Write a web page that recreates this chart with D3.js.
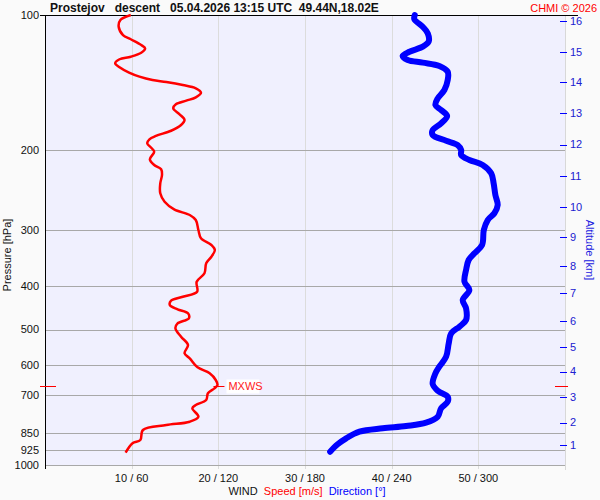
<!DOCTYPE html>
<html>
<head>
<meta charset="utf-8">
<script src="https://cdn.jsdelivr.net/npm/d3@7"></script>
<style>
  body { margin: 0; background: #fafafa; }
  svg { display: block; font-family: "Liberation Sans", Arial, sans-serif; }
</style>
</head>
<body>
<div id="chart"></div>
<script>
// Wind profile (descent) - speed and direction vs pressure

// speed curve [hPa] / [m/s]
const speedPres = [100, 102.6, 106.2, 110.8, 113.2, 116.6, 118.6, 121.3, 123.8, 125.4, 128, 130.7, 134.3, 137.1, 139.5, 140.9, 143.1, 145.5, 148.8, 152.4, 155, 157.9, 161.2, 166, 171.1, 175.6, 180.8, 185.7, 188.9, 192.8, 196.8, 201.3, 209.3, 215.4, 220.2, 226.8, 236.6, 249, 260, 270.3, 278.3, 285.5, 300.5, 313.5, 324.4, 332.8, 344.5, 356.3, 375, 391.5, 412, 422.7, 431.4, 441, 450.9, 460.2, 472.1, 484.3, 496.9, 518.7, 541.2, 564.7, 579.3, 606.6, 625.5, 647.3, 664.1, 675.4, 692.9, 717.1, 735.7, 748.2, 781.1, 801.3, 815, 836.1, 880, 895, 939];
const speedVal = [9.9, 8.7, 8.5, 9.0, 9.9, 11.1, 11.55, 11.1, 9.9, 8.6, 8.1, 8.6, 9.7, 10.9, 12.4, 14.0, 15.9, 17.4, 18.0, 17.4, 16.3, 15.1, 14.8, 15.5, 16.1, 15.7, 14.55, 12.8, 12.05, 11.8, 12.2, 12.6, 12.1, 12.6, 13.4, 13.5, 13.3, 13.3, 13.8, 14.9, 16.7, 17.4, 17.7, 18.0, 19.2, 19.6, 19.2, 18.6, 18.4, 17.5, 17.55, 15.9, 14.55, 14.4, 15.3, 16.5, 16.6, 15.3, 15.05, 15.7, 16.5, 16.1, 16.7, 17.6, 19.0, 19.7, 19.9, 19.55, 18.8, 18.6, 17.4, 17.0, 17.7, 16.7, 14.0, 11.3, 11.0, 10.1, 9.3];

// direction curve [hPa] / [deg]
const dirPres = [100, 102.2, 106.2, 109.8, 114.6, 117.6, 120.7, 123.3, 125.9, 127.6, 129.8, 133.7, 139.5, 146.8, 153.2, 158.5, 162.6, 167.7, 174.1, 180.1, 184.8, 190.3, 194.5, 199.5, 204.7, 210, 215.4, 224.8, 236.6, 251.2, 264.4, 275.8, 285.5, 300.5, 324.4, 338.5, 350.3, 368.7, 391.5, 408.4, 429.9, 448.5, 476.2, 492.8, 509.7, 536.5, 574.6, 604.7, 625.5, 660.7, 683.8, 705.1, 723.3, 748.2, 781.1, 805.4, 819.1, 828.8, 843.4, 872.3, 899.5, 934.2];
const dirVal = [256, 255.7, 261.5, 265, 265.6, 261.5, 252.3, 247.6, 251.1, 261.5, 273, 278.8, 278.8, 276.5, 271.9, 270.3, 274.2, 278.4, 274.2, 268.4, 268.4, 277.7, 285.7, 288.1, 288.1, 293.8, 303, 308.9, 310.6, 311.8, 313.4, 311.1, 306.5, 303.8, 302.6, 297.3, 293.3, 291.5, 290.4, 293.8, 289.2, 291.5, 291.5, 286.9, 281.2, 279.5, 277.7, 273, 270.3, 268.4, 271.9, 278.8, 278.8, 274.2, 271.9, 263.8, 250, 233.8, 217.7, 208.5, 202.6, 197.4];

// axes
const presTicks = [100, 200, 300, 400, 500, 600, 700, 850, 925, 1000];
const windTicks = [10, 20, 30, 40, 50];
const windTickLabels = ["10 / 60", "20 / 120", "30 / 180", "40 / 240", "50 / 300"];
const altKm = [1, 2, 3, 4, 5, 6, 7, 8, 9, 10, 11, 12, 13, 14, 15, 16];
const altPres = [905, 805, 705, 620, 546, 479, 415, 361, 311, 267, 228, 194, 165, 141, 120.7, 103];

// max wind
const mxwsPres = 667;
const mxwsSpeed = 19.9;

const width = 600, height = 500;
const plotL = 45, plotR = 565, plotT = 15, plotB = 465;

const svg = d3.select("#chart").append("svg")
    .attr("width", width)
    .attr("height", height);

svg.append("rect").attr("width", width).attr("height", height).attr("fill", "#fafafa");

const y = d3.scaleLog().domain([100, 1000]).range([plotT, plotB]);
const xs = d3.scaleLinear().domain([0, 60]).range([plotL, plotR]);
const xd = d3.scaleLinear().domain([0, 360]).range([plotL, plotR]);

// plot background
svg.append("rect")
    .attr("x", plotL).attr("y", plotT)
    .attr("width", plotR - plotL).attr("height", plotB - plotT)
    .attr("fill", "#f0f0fe");

// vertical grid
svg.selectAll(".vgrid").data(windTicks).enter().append("line")
    .attr("x1", d => Math.round(xs(d)) + 0.5).attr("x2", d => Math.round(xs(d)) + 0.5)
    .attr("y1", plotT).attr("y2", plotB + 4)
    .attr("stroke", "#dcdcdc");

svg.append("line")
    .attr("x1", plotR + 0.5).attr("x2", plotR + 0.5)
    .attr("y1", plotT).attr("y2", plotB + 5)
    .attr("stroke", "#d8d8d8");

// horizontal grid
svg.selectAll(".hgrid").data(presTicks.slice(1)).enter().append("line")
    .attr("x1", plotL).attr("x2", plotR)
    .attr("y1", d => Math.round(y(d)) + 0.5).attr("y2", d => Math.round(y(d)) + 0.5)
    .attr("stroke", "#a8a8a8");

// pressure labels
svg.selectAll(".plab").data(presTicks).enter().append("text")
    .attr("x", 39).attr("y", d => y(d))
    .attr("dy", "0.35em")
    .attr("text-anchor", "end")
    .style("font-size", "11px")
    .attr("fill", "#111")
    .text(d => d);

svg.append("text")
    .attr("transform", "translate(11,255) rotate(-90)")
    .attr("text-anchor", "middle")
    .style("font-size", "11px")
    .attr("fill", "#111")
    .text("Pressure [hPa]");

// wind labels
svg.selectAll(".wlab").data(windTicks).enter().append("text")
    .attr("x", d => xs(d)).attr("y", 482)
    .attr("text-anchor", "middle")
    .style("font-size", "11px")
    .attr("fill", "#111")
    .text((d, i) => windTickLabels[i]);

const legend = svg.append("text")
    .attr("x", 307).attr("y", 495)
    .attr("text-anchor", "middle")
    .style("font-size", "11px")
    .style("white-space", "pre");
legend.append("tspan").attr("fill", "#111").text("WIND  ");
legend.append("tspan").attr("fill", "#ff0000").text("Speed [m/s]  ");
legend.append("tspan").attr("fill", "#0000ff").text("Direction [°]");

// altitude axis
svg.selectAll(".atick").data(altKm).enter().append("line")
    .attr("x1", 560).attr("x2", 567)
    .attr("y1", (d, i) => Math.round(y(altPres[i])) + 0.5)
    .attr("y2", (d, i) => Math.round(y(altPres[i])) + 0.5)
    .attr("stroke", "#0000ff");

svg.selectAll(".alab").data(altKm).enter().append("text")
    .attr("x", 570)
    .attr("y", (d, i) => y(altPres[i]))
    .attr("dy", "0.35em")
    .style("font-size", "11px")
    .attr("fill", "#2020d0")
    .text(d => d);

svg.append("text")
    .attr("transform", "translate(586,250) rotate(90)")
    .attr("text-anchor", "middle")
    .style("font-size", "11px")
    .attr("fill", "#2020e0")
    .text("Altitude [km]");

// frame lines
svg.append("line")
    .attr("x1", plotL + 0.5).attr("x2", plotL + 0.5)
    .attr("y1", plotT).attr("y2", plotB + 4)
    .attr("stroke", "#000");
svg.append("line")
    .attr("x1", 40).attr("x2", 578)
    .attr("y1", plotT + 0.5).attr("y2", plotT + 0.5)
    .attr("stroke", "#000");

// curves
const speedLine = d3.line()
    .x((d, i) => xs(speedVal[i]))
    .y(d => y(d))
    .curve(d3.curveCatmullRom);

svg.append("path")
    .attr("d", speedLine(speedPres))
    .attr("fill", "none")
    .attr("stroke", "#ff0000")
    .attr("stroke-width", 2.5)
    .attr("stroke-linejoin", "round");

const dirLine = d3.line()
    .x((d, i) => xd(dirVal[i]))
    .y(d => y(d))
    .curve(d3.curveCatmullRom);

svg.append("path")
    .attr("d", dirLine(dirPres))
    .attr("fill", "none")
    .attr("stroke", "#0000ff")
    .attr("stroke-width", 6)
    .attr("stroke-linecap", "round")
    .attr("stroke-linejoin", "round");

// max wind marker
const my = Math.round(y(mxwsPres)) + 0.5;
svg.append("line").attr("x1", 40).attr("x2", 56).attr("y1", my).attr("y2", my).attr("stroke", "#ff0000");
svg.append("line").attr("x1", 555).attr("x2", 568).attr("y1", my).attr("y2", my).attr("stroke", "#ff0000");
svg.append("line").attr("x1", xs(mxwsSpeed) - 4).attr("x2", xs(mxwsSpeed) + 7).attr("y1", my).attr("y2", my).attr("stroke", "#ff0000");
svg.append("rect")
    .attr("x", xs(mxwsSpeed) + 9).attr("y", my - 7)
    .attr("width", 33).attr("height", 14)
    .attr("fill", "#fff");
svg.append("text")
    .attr("x", xs(mxwsSpeed) + 11).attr("y", my)
    .attr("dy", "0.35em")
    .style("font-size", "11px")
    .attr("fill", "#ff2020")
    .text("MXWS");

// header
svg.append("text")
    .attr("x", 50).attr("y", 12)
    .style("font-size", "12px")
    .style("font-weight", "bold")
    .style("white-space", "pre")
    .attr("fill", "#111")
    .text("Prostejov   descent   05.04.2026 13:15 UTC  49.44N,18.02E");

svg.append("text")
    .attr("x", 597).attr("y", 12)
    .attr("text-anchor", "end")
    .style("font-size", "11px")
    .attr("fill", "#ff0000")
    .text("CHMI © 2026");
</script>
</body>
</html>
